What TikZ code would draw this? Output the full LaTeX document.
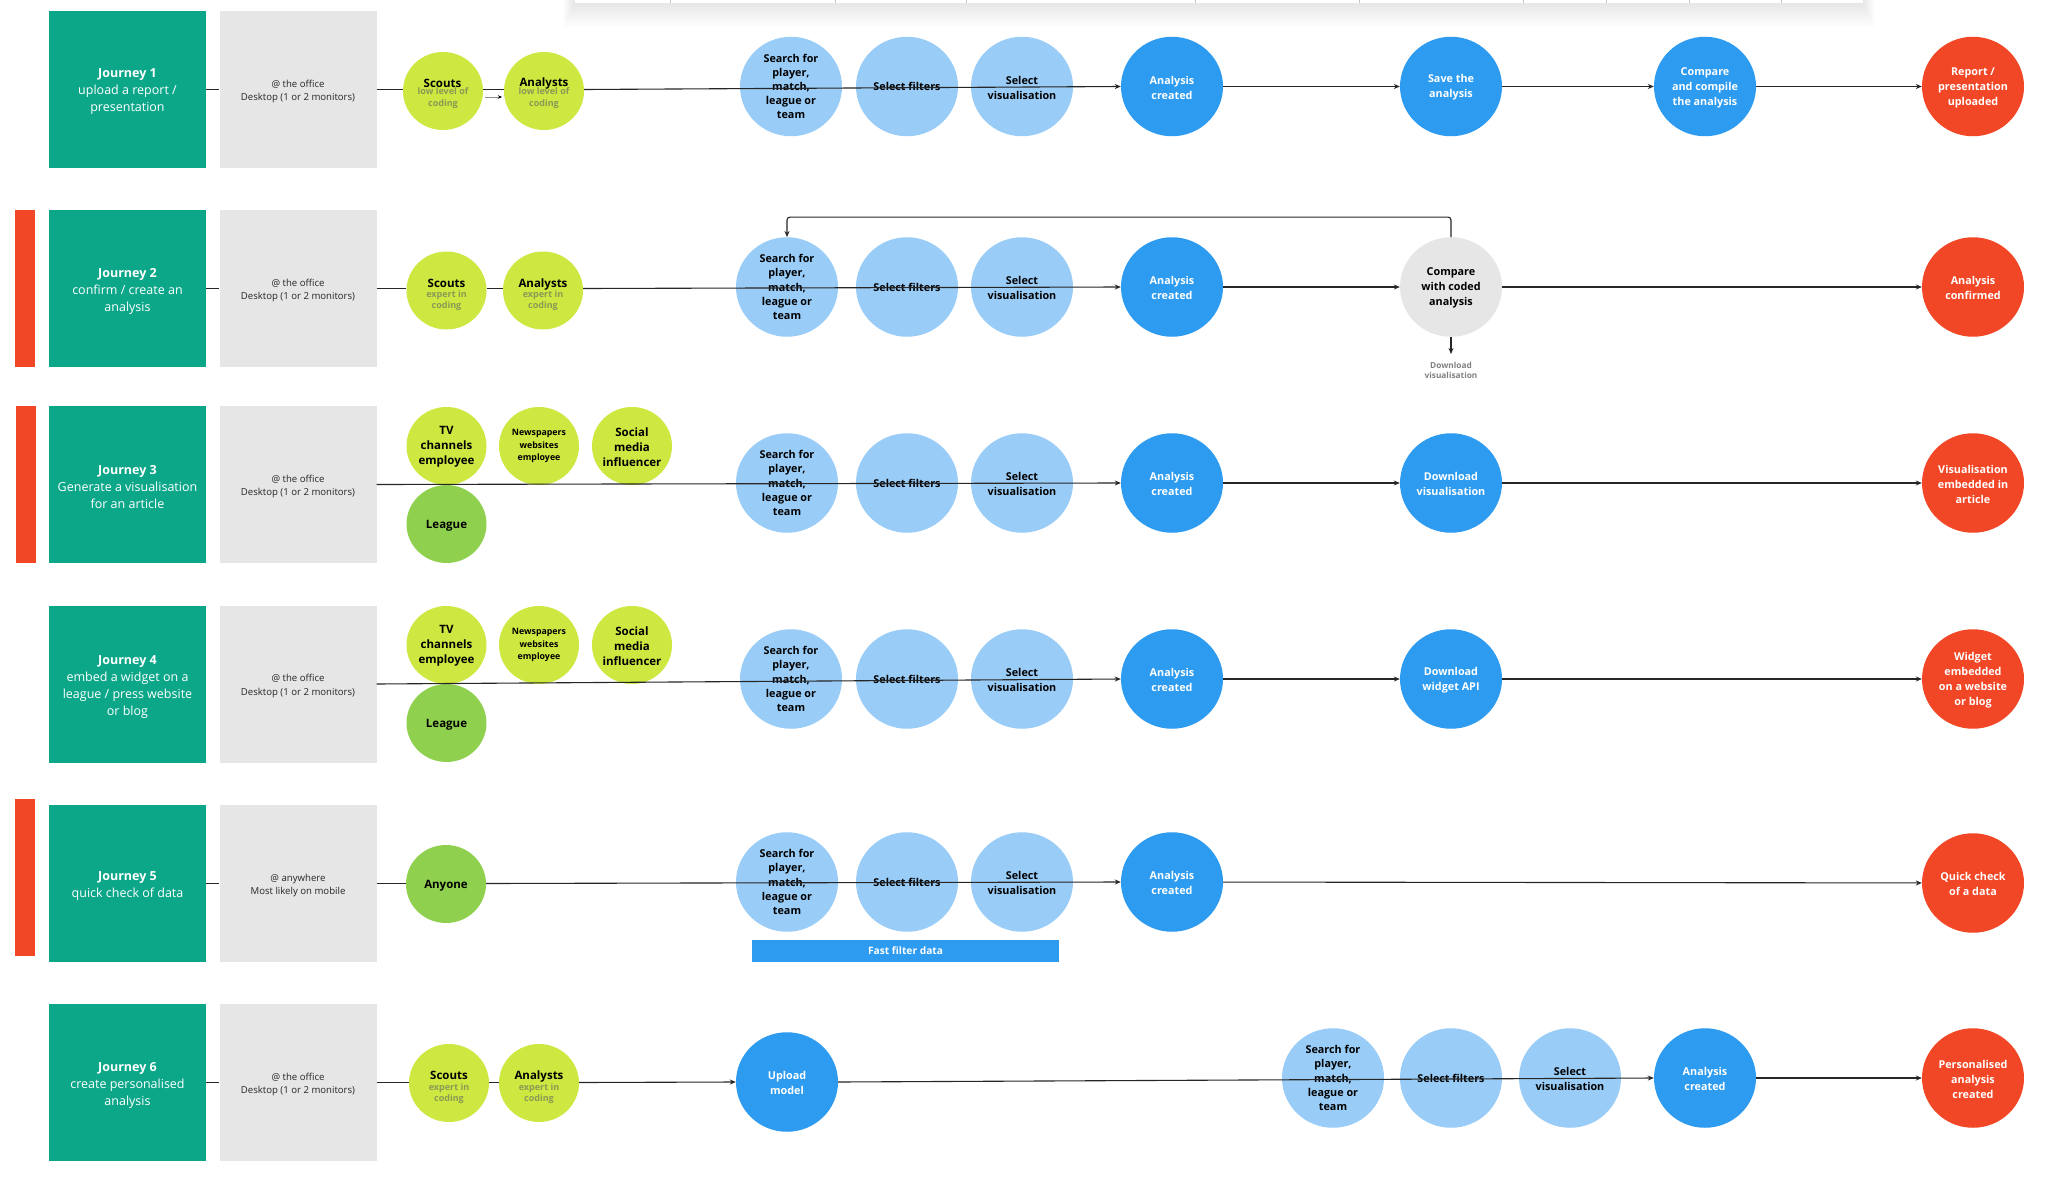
\documentclass[tikz,border=0pt]{standalone}
\usepackage{fontspec}
\setmainfont{Open Sans}
\usetikzlibrary{arrows.meta,shapes.geometric}
\definecolor{teal0}{HTML}{0CA789}
\definecolor{gray0}{HTML}{E6E6E6}
\definecolor{lime0}{HTML}{CEE741}
\definecolor{green0}{HTML}{8FD14F}
\definecolor{blue0}{HTML}{2D9BF0}
\definecolor{pale0}{HTML}{99CDF8}
\definecolor{red0}{HTML}{F24726}
\definecolor{sub0}{HTML}{8A9A55}
\newcommand{\subt}[1]{{\color{sub0}\fontsize{9}{11}\selectfont #1}}
\newcommand{\whotext}[3]{\rule{0pt}{17pt}#1\\[-4.3pt]\subt{#2}\\[-4.3pt]\subt{#3}}
\newcommand{\jt}[1]{\rule{0pt}{14pt}\textbf{#1}}
\newcommand{\pl}{\rule{0pt}{11pt}}
\newcommand{\lfd}{\rule{0pt}{10.5pt}}
\tikzset{
 x=1pt,y=-1pt,
 journey/.style={fill=teal0,minimum width=157pt,minimum height=157pt,inner sep=2pt,text=white,align=center,font=\fontsize{12.5}{17}\selectfont},
 place/.style={fill=gray0,minimum width=157pt,minimum height=157pt,inner sep=2pt,align=center,text=black!85,font=\fontsize{9.6}{13.5}\selectfont},
 flag/.style={fill=red0,minimum width=20pt,minimum height=157pt,inner sep=0pt},
 disc/.style={ellipse,minimum width=102pt,minimum height=99.5pt,inner sep=-8pt,align=center,font=\bfseries\fontsize{10.8}{15}\selectfont},
 palec/.style={disc,fill=pale0,text=black},
 srch/.style={palec,font=\bfseries\fontsize{10.8}{14.2}\selectfont},
 bluec/.style={disc,fill=blue0,text=white},
 redc/.style={disc,fill=red0,text=white},
 grayc/.style={disc,fill=gray0,text=black},
 who/.style={ellipse,minimum width=80pt,minimum height=78pt,inner sep=-8pt,align=center,fill=lime0,text=black,font=\bfseries\fontsize{11.5}{15}\selectfont},
 whos/.style={who,font=\bfseries\fontsize{8.8}{12.4}\selectfont},
 lg/.style={who,fill=green0},
 whot/.style={font=\bfseries\fontsize{11.5}{15}\selectfont,inner sep=0pt},
 whou/.style={align=center,font=\bfseries\fontsize{9}{11.5}\selectfont,text=sub0,inner sep=0pt},
 link/.style={draw=black!85,line width=1.1pt},
 arrow/.style={link,-{Stealth[length=6pt,width=5pt]}},
}
\begin{document}
\begin{tikzpicture}
\useasboundingbox (0,0) rectangle (2048,1180);
\fill[white] (0,0) rectangle (2048,1180);
% panel at the top edge
\foreach \k in {1,...,12}{
  \fill[black,opacity=0.0075] (575-\k,0) rectangle (1863+\k,3+2*\k);
}
\fill[white] (575,0) rectangle (1863,3.3);
\foreach \t in {670,835,966,1195,1359,1523,1606,1689,1781}{
  \draw[black!22,line width=.6pt] (\t,0) -- (\t,3.3);
}

% ---------- Row 1
\node[journey] (j1) at (127.5,89.5) {\jt{Journey 1}\\upload a report /\\presentation};
\node[place] (p1) at (298,89.5) {\pl @ the office\\Desktop (1 or 2 monitors)};
\node[who] (s1) at (443,91) {};
\node[who] (a1) at (544,91) {};
\node[srch] (f1) at (791,86.5) {Search for\\player,\\match,\\league or\\team};
\node[palec] (g1) at (907,86.5) {Select filters};
\node[palec] (h1) at (1022,86.5) {\lfd Select\\visualisation};
\node[bluec] (i1) at (1172,86.5) {\lfd Analysis\\created};
\node[bluec] (k1) at (1451,86.5) {\lfd Save the\\analysis};
\node[bluec] (l1) at (1705,86.5) {\lfd Compare\\and compile\\the analysis};
\node[redc] (m1) at (1973,86.5) {\lfd Report /\\presentation\\uploaded};
\draw[link] (j1.east) -- (p1.west);
\draw[link] (p1.east) -- (s1.west |- p1.east);
\draw[link] (s1.east |- p1.east) -- (a1.west |- p1.east);
\draw[arrow] (a1.east |- p1.east) -- (i1.west);
\draw[arrow] (i1) -- (k1);
\draw[arrow] (k1) -- (l1);
\draw[arrow] (l1) -- (m1);
\coordinate (sa1) at (485,97); \coordinate (sb1) at (502,97);
\draw[draw=black!45,line width=.7pt,-{Stealth[length=4pt,width=3.5pt,color=black]}] (sa1) -- (sb1);
\node[whot] (s1t) at (442.5,83.5) {Scouts};
\node[whot] (a1t) at (544,83.5) {Analysts};
\node[whou] (s1u) at (443,98) {low level of\\coding};
\node[whou] (a1u) at (544,98) {low level of\\coding};

% ---------- Row 2
\node[flag] (r2) at (24.5,288.5) {};
\node[journey] (j2) at (127.5,288.5) {\jt{Journey 2}\\confirm / create an\\analysis};
\node[place] (p2) at (298,288.5) {\pl @ the office\\Desktop (1 or 2 monitors)};
\node[who] (s2) at (446.5,290.5) {\whotext{Scouts}{expert in}{coding}};
\node[who] (a2) at (543,290.5) {\whotext{Analysts}{expert in}{coding}};
\node[srch] (f2) at (787,287) {Search for\\player,\\match,\\league or\\team};
\node[palec] (g2) at (907,287) {Select filters};
\node[palec] (h2) at (1022,287) {\lfd Select\\visualisation};
\node[bluec] (i2) at (1172,287) {\lfd Analysis\\created};
\node[grayc] (k2) at (1451,287) {\lfd Compare\\with coded\\analysis};
\node[redc] (m2) at (1973,287) {\lfd Analysis\\confirmed};
\node[align=center,text=black!50,font=\bfseries\fontsize{8.3}{10.6}\selectfont,inner sep=0pt] (d2) at (1451,370.5) {Download\\visualisation};
\coordinate (d2a) at (1451,354);
\draw[link] (j2.east) -- (p2.west);
\draw[link] (p2.east) -- (s2.west |- p2.east);
\draw[link] (s2.east |- p2.east) -- (a2.west |- p2.east);
\draw[arrow] (a2.east |- p2.east) -- (i2.west);
\draw[arrow] (i2) -- (k2);
\draw[arrow] (k2) -- (m2);
\draw[arrow] (k2.south) -- (d2a);
\draw[arrow,rounded corners=3pt] (k2.north) -- ++(0,-20) -| (f2.north);

% ---------- Row 3
\node[flag] (r3) at (25.7,484.5) {};
\node[journey] (j3) at (127.5,484.5) {\jt{Journey 3}\\Generate a visualisation\\for an article};
\node[place] (p3) at (298,484.5) {\pl @ the office\\Desktop (1 or 2 monitors)};
\node[who] (t3) at (446.5,446) {\lfd TV\\channels\\employee};
\node[whos] (n3) at (539,446) {Newspapers\\websites\\employee};
\node[who] (o3) at (632,446) {\lfd Social\\media\\influencer};
\node[lg] (e3) at (446.5,524) {\rule{0pt}{11pt}League};
\node[srch] (f3) at (787,483) {Search for\\player,\\match,\\league or\\team};
\node[palec] (g3) at (907,483) {Select filters};
\node[palec] (h3) at (1022,483) {\lfd Select\\visualisation};
\node[bluec] (i3) at (1172,483) {\lfd Analysis\\created};
\node[bluec] (k3) at (1451,483) {\lfd Download\\visualisation};
\node[redc] (m3) at (1973,483) {\lfd Visualisation\\embedded in\\article};
\draw[arrow] (p3.east) -- (i3.west);
\draw[arrow] (i3) -- (k3);
\draw[arrow] (k3) -- (m3);

% ---------- Row 4
\node[journey] (j4) at (127.5,684) {\jt{Journey 4}\\embed a widget on a\\league / press website\\or blog};
\node[place] (p4) at (298,684) {\pl @ the office\\Desktop (1 or 2 monitors)};
\node[who] (t4) at (446.5,645) {\lfd TV\\channels\\employee};
\node[whos] (n4) at (539,645) {Newspapers\\websites\\employee};
\node[who] (o4) at (632,645) {\lfd Social\\media\\influencer};
\node[lg] (e4) at (446.5,723) {\rule{0pt}{11pt}League};
\node[srch] (f4) at (791,679) {Search for\\player,\\match,\\league or\\team};
\node[palec] (g4) at (907,679) {Select filters};
\node[palec] (h4) at (1022,679) {\lfd Select\\visualisation};
\node[bluec] (i4) at (1172,679) {\lfd Analysis\\created};
\node[bluec] (k4) at (1451,679) {\lfd Download\\widget API};
\node[redc] (m4) at (1973,679) {\lfd Widget\\embedded\\on a website\\or blog};
\draw[arrow] (p4.east) -- (i4.west);
\draw[arrow] (i4) -- (k4);
\draw[arrow] (k4) -- (m4);

% ---------- Row 5
\node[flag] (r5) at (24.5,877.5) {};
\node[journey] (j5) at (127.5,883.5) {\jt{Journey 5}\\quick check of data};
\node[place] (p5) at (298,883.5) {\pl @ anywhere\\Most likely on mobile};
\node[lg] (e5) at (446,884) {\rule{0pt}{11pt}Anyone};
\node[srch] (f5) at (787,882) {Search for\\player,\\match,\\league or\\team};
\node[palec] (g5) at (907,882) {Select filters};
\node[palec] (h5) at (1022,882) {\lfd Select\\visualisation};
\node[bluec] (i5) at (1172,882) {\lfd Analysis\\created};
\node[redc] (m5) at (1973,883) {\lfd Quick check\\of a data};
\node[fill=blue0,text=white,minimum width=307pt,minimum height=22pt,inner sep=0pt,font=\bfseries\fontsize{10.2}{12}\selectfont] (b5) at (905.5,951) {Fast filter data};
\draw[link] (j5.east) -- (p5.west);
\draw[link] (p5.east) -- (e5.west |- p5.east);
\draw[arrow] (e5.east |- p5.east) -- (i5.west);
\draw[arrow] (i5) -- (m5);

% ---------- Row 6
\node[journey] (j6) at (127.5,1082.5) {\jt{Journey 6}\\create personalised\\analysis};
\node[place] (p6) at (298,1082.5) {\pl @ the office\\Desktop (1 or 2 monitors)};
\node[who] (s6) at (449,1083) {\whotext{Scouts}{expert in}{coding}};
\node[who] (a6) at (539,1083) {\whotext{Analysts}{expert in}{coding}};
\node[bluec] (u6) at (787,1082) {\lfd Upload\\model};
\node[srch] (f6) at (1333,1078) {Search for\\player,\\match,\\league or\\team};
\node[palec] (g6) at (1451,1078) {Select filters};
\node[palec] (h6) at (1570,1078) {\lfd Select\\visualisation};
\node[bluec] (i6) at (1705,1078) {\lfd Analysis\\created};
\node[redc] (m6) at (1973,1078) {\lfd Personalised\\analysis\\created};
\draw[link] (j6.east) -- (p6.west);
\draw[link] (p6.east) -- (s6.west |- p6.east);
\draw[link] (s6.east |- p6.east) -- (a6.west |- p6.east);
\draw[arrow] (a6.east |- p6.east) -- (u6.west);
\draw[arrow] (u6.east) -- (i6.west);
\draw[arrow] (i6) -- (m6);
\end{tikzpicture}
\end{document}
